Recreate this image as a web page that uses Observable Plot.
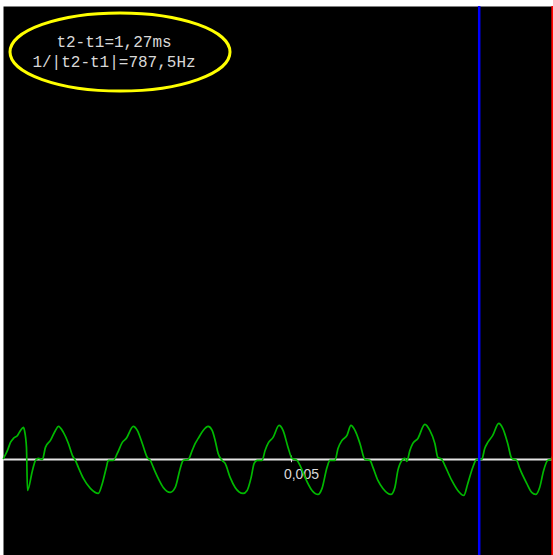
<!DOCTYPE html>
<html>
<head>
<meta charset="utf-8">
<script src="https://cdn.jsdelivr.net/npm/d3@7"></script>
<script src="https://cdn.jsdelivr.net/npm/@observablehq/plot@0.6"></script>
<style>
  html, body { margin: 0; padding: 0; background: #ffffff; }
  #chart svg { display: block; }
</style>
</head>
<body>
<div id="chart"></div>
<script>
// Time (ms) and signal value
const timeMs = [0, 0.069, 0.121, 0.173, 0.243, 0.295, 0.347, 0.364, 0.399, 0.416, 0.503, 0.555, 0.607, 0.676, 0.728, 0.815, 0.902, 0.954,
  1.040, 1.127, 1.196, 1.248, 1.300, 1.387, 1.508, 1.647, 1.716, 1.786, 1.820, 1.907, 1.976, 2.063, 2.132, 2.254,
  2.323, 2.410, 2.497, 2.549, 2.601, 2.687, 2.774, 2.895, 2.982, 3.069, 3.121, 3.207, 3.277, 3.329, 3.381, 3.467, 3.554,
  3.623, 3.675, 3.727, 3.797, 3.849, 3.935, 4.022, 4.161, 4.230, 4.300, 4.352, 4.404, 4.490, 4.542, 4.594, 4.681, 4.785,
  4.854, 4.941, 5.010, 5.097, 5.149, 5.236, 5.357, 5.461, 5.531, 5.617, 5.669, 5.756, 5.808, 5.877, 5.964, 6.033,
  6.103, 6.189, 6.276, 6.363, 6.415, 6.501, 6.588, 6.727, 6.796, 6.848, 6.917, 6.969, 7.004, 7.056, 7.108, 7.195, 7.316,
  7.403, 7.490, 7.542, 7.611, 7.663, 7.784, 7.888, 7.992, 8.062, 8.148, 8.218, 8.304, 8.356, 8.408, 8.495, 8.599,
  8.669, 8.755, 8.825, 8.911, 8.963, 9.085, 9.171, 9.241, 9.310, 9.379, 9.449, 9.500, 9.550];
const volts = [0.018, 0.164, 0.310, 0.383, 0.437, 0.528, 0.583, 0.528, 0.219, -0.565, -0.200, -0.018, 0.018, 0, 0.219, 0.346, 0.528, 0.601,
  0.492, 0.291, 0.073, -0.018, -0.146, -0.346, -0.528, -0.619, -0.437, -0.146, -0.018, -0.018, 0.109, 0.310, 0.383, 0.601,
  0.528, 0.291, 0.036, -0.018, -0.146, -0.346, -0.510, -0.601, -0.510, -0.164, -0.018, 0, 0.164, 0.291, 0.383, 0.528, 0.601,
  0.528, 0.346, 0.109, -0.018, -0.073, -0.328, -0.510, -0.619, -0.565, -0.328, -0.073, -0.018, -0.018, 0.164, 0.291, 0.401, 0.619,
  0.528, 0.219, 0.018, -0.018, -0.109, -0.328, -0.565, -0.638, -0.528, -0.146, -0.018, -0.018, 0.200, 0.346, 0.437, 0.619,
  0.528, 0.291, 0, -0.018, -0.146, -0.383, -0.528, -0.638, -0.510, -0.200, -0.018, 0.018, -0.036, 0.164, 0.291, 0.383, 0.638,
  0.528, 0.291, 0.036, 0, -0.109, -0.383, -0.565, -0.656, -0.437, -0.146, 0, 0, 0.200, 0.310, 0.437, 0.656,
  0.565, 0.291, 0.018, -0.018, -0.164, -0.437, -0.601, -0.638, -0.510, -0.200, -0.018, 0, 0.09];

// Cursors (ms)
const cursorT1 = [8.26];
const cursorT2 = [9.53];

// Axis tick
const tickValues = [5];
const tickLabels = ["0,005"];

// Readout text
const readoutLines = ["t2-t1=1,27ms", "1/|t2-t1|=787,5Hz"];

const trace = timeMs.map((t, i) => ({t, v: volts[i]}));

const plot = Plot.plot({
  width: 553,
  height: 555,
  marginTop: 6,
  marginLeft: 3,
  marginRight: 0,
  marginBottom: 0,
  style: {background: "#ffffff"},
  x: {domain: [0, 9.55], axis: null},
  y: {domain: [-1.75, 8.25], axis: null},
  marks: [
    Plot.frame({fill: "#000000", stroke: null}),
    Plot.ruleY([0], {stroke: "#e4e4e4", strokeWidth: 2}),
    Plot.ruleX(tickValues, {y1: -0.06, y2: 0.06, stroke: "#e4e4e4", strokeWidth: 1}),
    Plot.text(tickValues, {x: d => d, y: 0, text: (d, i) => tickLabels[i], dx: 10, dy: 15,
      fill: "#d8d8d8", fontSize: 14, fontFamily: "Liberation Sans, Arial, sans-serif"}),
    Plot.line(trace, {x: "t", y: "v", stroke: "#00b800", strokeWidth: 1.7, curve: "monotone-x"}),
    Plot.ruleX(cursorT1, {stroke: "#0000ff", strokeWidth: 2.5}),
    Plot.ruleX(cursorT2, {stroke: "#ff0000", strokeWidth: 2})
  ]
});

document.getElementById("chart").appendChild(plot);

// Readout annotation: ellipse and two lines of text
const svg = d3.select(plot);
const g = svg.append("g");
g.append("ellipse")
  .attr("cx", 120).attr("cy", 52).attr("rx", 110).attr("ry", 39)
  .attr("fill", "none").attr("stroke", "#ffff00").attr("stroke-width", 3);
g.selectAll("text.readout").data(readoutLines).join("text")
  .attr("class", "readout")
  .attr("x", 114).attr("y", (d, i) => 43 + i * 20)
  .attr("text-anchor", "middle").attr("dominant-baseline", "central")
  .attr("fill", "#d8d8d8").attr("font-size", 16)
  .attr("font-family", "Liberation Mono, Courier New, monospace")
  .text(d => d);
</script>
</body>
</html>
